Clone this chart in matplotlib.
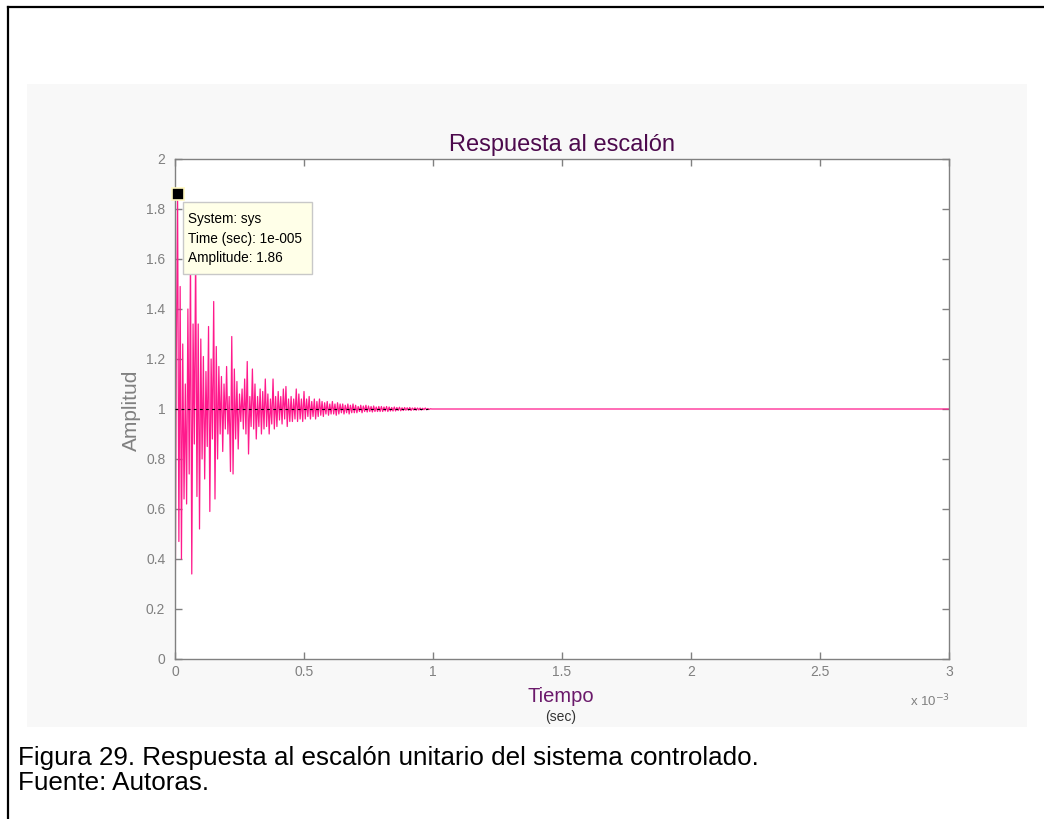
import matplotlib
matplotlib.use("Agg")
import matplotlib.pyplot as plt
import numpy as np
from matplotlib.patches import Rectangle
from matplotlib.lines import Line2D

plt.rcParams['font.family'] = ['Liberation Sans', 'DejaVu Sans']

# ---- data ----
sample_step = 5e-6          # seconds between samples
amplitude = [
    # 0 - 0.05 ms
    0.00, 1.20, 1.86, 0.47, 1.49, 0.40, 1.26, 0.64, 1.10, 0.62,
    # 0.05 - 0.10 ms
    1.40, 0.74, 1.62, 0.34, 1.34, 0.86, 1.65, 0.65, 1.34, 0.52,
    # 0.10 - 0.15 ms
    1.28, 0.80, 1.21, 0.72, 1.15, 0.85, 1.33, 0.59, 1.20, 0.88,
    # 0.15 - 0.20 ms
    1.43, 0.64, 1.25, 0.80, 1.17, 0.90, 1.13, 0.83, 1.10, 0.92,
    # 0.20 - 0.25 ms
    1.17, 0.90, 1.05, 0.75, 1.29, 0.74, 1.16, 0.88, 1.11, 0.84,
    # 0.25 - 0.30 ms
    1.06, 0.95, 1.08, 0.92, 1.12, 0.90, 1.19, 0.82, 1.05, 0.93,
    # 0.30 - 0.35 ms
    1.16, 0.92, 1.10, 0.88, 1.05, 0.93, 1.08, 0.90, 1.07, 0.92,
    # 0.35 - 0.40 ms
    1.12, 0.93, 1.06, 0.90, 1.04, 0.94, 1.12, 0.92, 1.05, 0.93,
    # 0.40 - 0.45 ms
    1.07, 0.956, 1.05, 0.94, 1.08, 0.96, 1.09, 0.93, 1.04, 0.95,
    # 0.45 - 0.50 ms
    1.05, 0.95, 1.04, 0.96, 1.08, 0.95, 1.06, 0.96, 1.04, 0.95,
    # 0.50 - 0.55 ms
    1.07, 0.96, 1.04, 0.97, 1.05, 0.96, 1.03, 0.97, 1.04, 0.96,
    # 0.55 - 0.60 ms
    1.03, 0.97, 1.04, 0.975, 1.03, 0.97, 1.025, 0.98, 1.03, 0.975,
    # 0.60 - 0.65 ms
    1.02, 0.98, 1.03, 0.98, 1.02, 0.975, 1.025, 0.98, 1.02, 0.985,
    # 0.65 - 0.70 ms
    1.02, 0.98, 1.015, 0.985, 1.02, 0.98, 1.015, 0.985, 1.02, 0.985,
    # 0.70 - 0.75 ms
    1.015, 0.985, 1.01, 0.99, 1.015, 0.985, 1.012, 0.99, 1.015, 0.988,
    # 0.75 - 0.80 ms
    1.012, 0.99, 1.01, 0.988, 1.012, 0.99, 1.008, 0.99, 1.01, 0.99,
    # 0.80 - 0.85 ms
    1.01, 0.99, 1.008, 0.992, 1.01, 0.99, 1.008, 0.992, 1.006, 0.992,
    # 0.85 - 0.90 ms
    1.008, 0.992, 1.006, 0.994, 1.007, 0.993, 1.005, 0.994, 1.006, 0.995,
    # 0.90 - 0.95 ms
    1.005, 0.995, 1.006, 0.994, 1.004, 0.996, 1.005, 0.995, 1.004, 0.996,
    # 0.95 - 1.00 ms
    1.004, 0.996, 1.003, 0.997, 1.004, 0.997, 1.002, 0.998, 1.001, 1.000,
]
final_time = 3e-3
final_value = 1.0
steady_line_end = 0.98e-3
tip_time = 1e-5
tip_amp = 1.86

x_ticks = [0, 0.5e-3, 1e-3, 1.5e-3, 2e-3, 2.5e-3, 3e-3]
x_tick_labels = ['0', '0.5', '1', '1.5', '2', '2.5', '3']
y_ticks = [0, 0.2, 0.4, 0.6, 0.8, 1, 1.2, 1.4, 1.6, 1.8, 2]
y_tick_labels = ['0', '0.2', '0.4', '0.6', '0.8', '1', '1.2', '1.4', '1.6', '1.8', '2']

title_text = 'Respuesta al escalón'
xlabel_text = 'Tiempo'
xunit_text = '(sec)'
ylabel_text = 'Amplitud'
caption1 = 'Figura 29. Respuesta al escalón unitario del sistema controlado.'
caption2 = 'Fuente: Autoras.'
tip_lines = ['System: sys', 'Time (sec): 1e-005', 'Amplitude: 1.86']

# ---- figure ----
W, H = 1044, 819
fig = plt.figure(figsize=(W / 100, H / 100), dpi=100)
fig.patch.set_facecolor('white')

def fx(px):
    return px / W

def fy(py):
    return 1 - py / H

# light figure panel (MATLAB window background)
fig.patches.append(Rectangle((fx(27), fy(727)), fx(1027) - fx(27), fy(84) - fy(727),
                             transform=fig.transFigure, facecolor='#f8f8f8',
                             edgecolor='none', zorder=-5))
# document border (top & left visible)
fig.lines.append(Line2D([fx(8), fx(8)], [fy(7), 0], transform=fig.transFigure,
                        color='black', lw=1.6, zorder=-4))
fig.lines.append(Line2D([fx(8), 1], [fy(7), fy(7)], transform=fig.transFigure,
                        color='black', lw=1.6, zorder=-4))

ax = fig.add_axes([fx(175), fy(659), fx(949) - fx(175), fy(159) - fy(659)])
ax.set_facecolor('white')
ax.set_zorder(2)

t = np.arange(len(amplitude)) * sample_step
t = np.append(t, final_time)
y = np.append(np.array(amplitude), final_value)

ax.plot(t, y, color='#ff1a8c', lw=0.9, zorder=2)
ax.hlines(1.0, 0, steady_line_end, color='black', lw=0.8, ls=(0, (2.5, 3)), zorder=3)

ax.set_xlim(0, 3e-3)
ax.set_ylim(0, 2)

grey = '#808080'
for s in ax.spines.values():
    s.set_color(grey)
    s.set_linewidth(1.0)
ax.set_xticks(x_ticks)
ax.set_xticklabels(x_tick_labels)
ax.set_yticks(y_ticks)
ax.set_yticklabels(y_tick_labels)
ax.tick_params(direction='in', length=5, width=1, colors=grey, labelcolor=grey,
               labelsize=10, top=True, right=True)
ax.tick_params(axis='x', pad=4)
ax.tick_params(axis='y', pad=7)

# multiplier text
fig.text(fx(950), fy(701), r'x 10$^{-3}$', color=grey, fontsize=9.5,
         ha='right', va='center')

ax.set_title(title_text, color='#4d0a4d', fontsize=17, pad=6)
fig.text(fx(561), fy(696), xlabel_text, color='#6b1a6b', fontsize=14.5,
         ha='center', va='center')
fig.text(fx(561), fy(717), xunit_text, color='#333333', fontsize=10,
         ha='center', va='center')
fig.text(fx(131), fy(410), ylabel_text, color=grey, fontsize=15,
         ha='center', va='center', rotation=90)

# data tip
ax.plot([tip_time], [tip_amp], marker='s', ms=8, color='black',
        mec='#fff8c0', mew=1.2, zorder=6, clip_on=False)
box = Rectangle((fx(183), fy(274)), fx(312) - fx(183), fy(202) - fy(274),
                transform=fig.transFigure, facecolor='#ffffe8',
                edgecolor='#c8c8c8', lw=1, zorder=5, clip_on=False)
ax.add_artist(box)
for i, line in enumerate(tip_lines):
    ax.text(fx(188), fy(219 + 19.5 * i), line, fontsize=9.8, color='black',
            ha='left', va='center', zorder=7, transform=fig.transFigure,
            clip_on=False)

# caption
fig.text(fx(18), fy(765), caption1, fontsize=18.7, color='black', ha='left', va='baseline')
fig.text(fx(18), fy(790), caption2, fontsize=18.7, color='black', ha='left', va='baseline')

fig.savefig('out.png', dpi=100)
